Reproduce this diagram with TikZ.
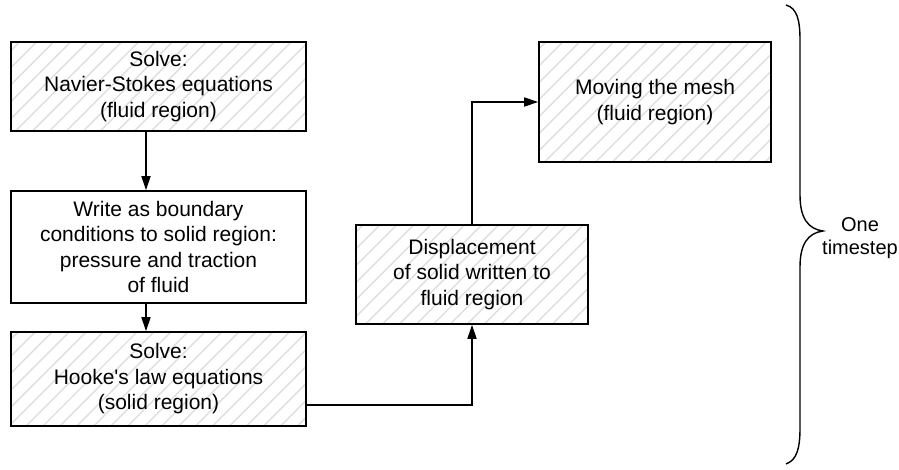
\documentclass[tikz,border=0pt]{standalone}
\usepackage{fontspec}
\setmainfont{Liberation Sans}
\usetikzlibrary{arrows.meta,patterns.meta}
\begin{document}
\begin{tikzpicture}[x=1pt,y=-1pt,
  boxbase/.style={draw=black,line width=1.6pt,inner sep=0pt,align=center,
    font=\fontsize{21}{25.5}\selectfont},
  hatched/.style={boxbase,pattern={Lines[angle=45,distance=12pt,line width=1.4pt]},pattern color=black!13},
  plainbox/.style={boxbase,fill=white},
  arr/.style={line width=1.6pt,-{Triangle[length=14pt,width=9pt]}}]
\useasboundingbox (0,0) rectangle (899,469);
\node[hatched,minimum width=295pt,minimum height=89pt] (b1) at (158.5,86.5)
  {Solve:\\Navier-Stokes equations\\(fluid region)};
\node[plainbox,minimum width=295pt,minimum height=112pt] (b2) at (158.5,247)
  {Write as boundary\\conditions to solid region:\\pressure and traction\\of fluid};
\node[hatched,minimum width=295pt,minimum height=94pt] (b3) at (158.5,379)
  {Solve:\\Hooke\textquotesingle s law equations\\(solid region)};
\node[hatched,minimum width=232pt,minimum height=99pt] (b4) at (472,274.5)
  {Displacement\\of solid written to\\fluid region};
\node[hatched,minimum width=232pt,minimum height=120pt] (b5) at (655,102)
  {Moving the mesh\\(fluid region)};
\coordinate (ax) at (146,0);
\coordinate (c1) at (472,405);
\draw[arr] (b1.south -| ax) -- (b2.north -| ax);
\draw[arr] (b2.south -| ax) -- (b3.north -| ax);
\draw[arr] (b3.east |- c1) -- (c1) -- (b4.south);
\draw[arr] (b4.north) |- (b5.west);
% brace
\coordinate (bt) at (786,5);
\coordinate (bb) at (786,464);
\coordinate (tip) at (823,231);
\draw[line width=1.4pt] (bt) .. controls (797,8) and (800,20) .. (800,40)
  -- (800,195) .. controls (800,218) and (808,229) .. (tip)
  .. controls (808,233) and (800,244) .. (800,267)
  -- (800,428) .. controls (800,448) and (797,460) .. (bb);
\node[align=center,font=\fontsize{20}{23}\selectfont,anchor=west,inner sep=0pt] (lbl) at (822,238) {One\\timestep};
\end{tikzpicture}
\end{document}
